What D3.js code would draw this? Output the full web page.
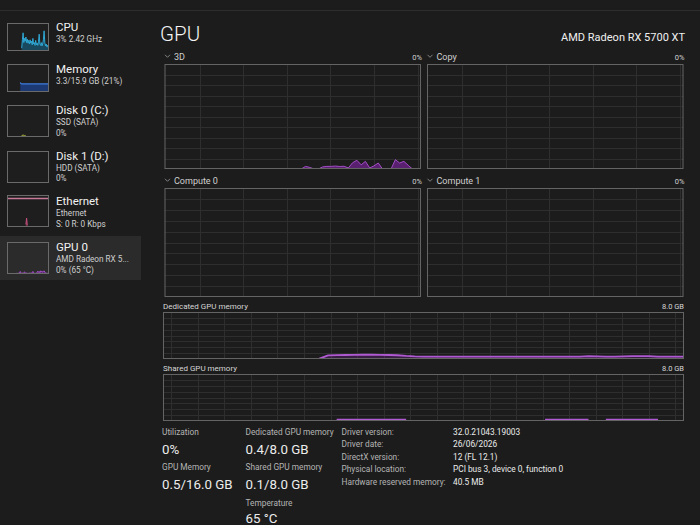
<!DOCTYPE html>
<html>
<head>
<meta charset="utf-8">
<script src="https://cdn.jsdelivr.net/npm/d3@7"></script>
<style>
  html, body { margin: 0; padding: 0; background: #1c1c1c; }
  svg { display: block; }
  text { font-family: "Segoe UI", Roboto, "Noto Sans", sans-serif; }
</style>
</head>
<body>
<svg id="tm" width="700" height="525"></svg>
<script>
'use strict';

// one sample per second, 60 s of history
var seconds = d3.range(0, 61);

// 3D engine utilisation (%)
var util3d = [
  0, 0, 0, 0, 0, 0, 0, 0, 0, 0,
  0, 0, 0, 0, 0, 0, 0, 0, 0, 0,
  0, 0, 0, 0, 0, 0, 0, 0, 0, 0,
  0, 0, 0, 2.5, 1.5, 0, 0, 2, 2.5, 2.5,
  2.8, 2.4, 2.6, 1, 6, 8.3, 4, 7.3, 1, 3,
  5.7, 0, 0, 0, 8.9, 5.7, 7.3, 3.5, 0, 0,
  0];

// GPU memory history (GB), null = no sample yet
var dedicatedGB = [
  null, null, null, null, null, null, null, null, null, null,
  null, null, null, null, null, null, null, null,
  0.05, 0.6, 0.66, 0.68, 0.7, 0.72, 0.72, 0.7, 0.68, 0.64,
  0.52, 0.44, 0.4, 0.4, 0.4, 0.4, 0.4, 0.4, 0.4, 0.4,
  0.4, 0.4, 0.4, 0.4, 0.4, 0.4, 0.4, 0.4, 0.4, 0.4,
  0.42, 0.48, 0.44, 0.4, 0.4, 0.45, 0.5, 0.5, 0.48, 0.42,
  0.4, 0.4, 0.4];
var sharedGB = [
  null, null, null, null, null, null, null, null, null, null,
  null, null, null, null, null, null, null, null, null,
  0, 0.25, 0.25, 0.25, 0.25, 0.25, 0.25, 0.25, 0.25, 0.25,
  0, 0, 0, 0, 0, 0, 0, 0, 0, 0,
  0, 0, 0, 0, 0, 0.25, 0.25, 0.25, 0.25, 0.25,
  0.25, 0, 0.25, 0.25, 0.25, 0.25, 0.25, 0.25, 0.25, 0,
  0, 0];

// sidebar thumbnails (% of thumbnail height)
var cpuThumb = [
  null, null, null, null, null, null, null, null, null, null,
  null, null, null, null, null, null, null, null, null, null,
  null, 10, 40, 65, 30, 45, 35, 50, 30, 42,
  28, 38, 25, 40, 28, 35, 22, 45, 25, 30,
  20, 38, 22, 28, 20, 35, 60, 25, 20, 30,
  18, 25, 40, 72, 30, 18, 25, 15, 20, 12,
  15];
var memThumb = [
  null, null, null, null, null, null, null, null, null, null,
  null, null, null, null, null, null, null, null, null,
  34, 30, 29, 29, 29, 29, 29, 29, 29, 29,
  29, 29, 29, 29, 29, 29, 29, 29, 29, 29,
  29, 29, 29, 29, 29, 29, 29, 29, 29, 29,
  29, 29, 29, 29, 29, 29, 29, 29, 29, 29,
  29, 29];
var disk0Thumb = [
  null, null, null, null, null, null, null, null, null, null,
  null, null, null, null, null, null, null, null, null, null,
  0, 3, 6, 5, 6, 4, 5, 2, 0, 0,
  0, 0, 0, 0, 0, 0, 0, 0, 0, 0,
  0, 0, 0, 0, 0, 4, 0, 0, 0, 0,
  0, 0, 0, 0, 0, 0, 0, 0, 0, 0,
  0];
var ethThumb = [
  null, null, null, null, null, null, null, null, null, null,
  null, null, null, null, null, null, null, null, null, null,
  0, 0, 0, 0, 0, 0, 0, 8, 28, 5,
  0, 0, 0, 0, 0, 0, 0, 0, 0, 0,
  0, 0, 0, 0, 0, 0, 0, 0, 0, 0,
  0, 0, 0, 0, 0, 0, 0, 0, 0, 0,
  0];
var ethScaleLine = [89, 89];
var gpuThumb = [
  null, null, null, null, null, null, null, null, null, null,
  null, null, null, 0, 3, 2, 3, 2, 3, 8,
  3, 2, 3, 2, 3, 7, 3, 2, 3, 2,
  3, 2, 3, 2, 3, 3, 4, 8, 3, 2,
  3, 2, 3, 4, 9, 5, 8, 4, 10, 6,
  9, 5, 8, 10, 6, 3, 2, 3, 2, 3,
  2];

var sideNames = ['CPU', 'Memory', 'Disk 0 (C:)', 'Disk 1 (D:)', 'Ethernet', 'GPU 0'];
var sideDetails = [
  ['3% 2.42 GHz'],
  ['3.3/15.9 GB (21%)'],
  ['SSD (SATA)', '0%'],
  ['HDD (SATA)', '0%'],
  ['Ethernet', 'S: 0 R: 0 Kbps'],
  ['AMD Radeon RX 5...', '0% (65 °C)']];

var engineNames = ['3D', 'Copy', 'Compute 0', 'Compute 1'];
var engineLoad = ['0%', '0%', '0%', '0%'];
var memoryNames = ['Dedicated GPU memory', 'Shared GPU memory'];
var memoryMax = ['8.0 GB', '8.0 GB'];

var statLabels = ['Utilization', 'GPU Memory', 'Dedicated GPU memory', 'Shared GPU memory', 'Temperature'];
var statValues = ['0%', '0.5/16.0 GB', '0.4/8.0 GB', '0.1/8.0 GB', '65 °C'];
var infoLabels = ['Driver version:', 'Driver date:', 'DirectX version:', 'Physical location:', 'Hardware reserved memory:'];
var infoValues = ['32.0.21043.19003', '26/06/2026', '12 (FL 12.1)', 'PCI bus 3, device 0, function 0', '40.5 MB'];

var svg = d3.select('#tm');

var GRID = '#2e2e2e', BORDER = '#646464';
var PURPLE = '#a24fc4', PURPLE_FILL = 'rgba(110,34,140,0.75)';

// top separator strip
svg.append('line')
  .attr('x1', 0).attr('x2', 700).attr('y1', 10.5).attr('y2', 10.5)
  .attr('stroke', '#2d2d2d')

// draws one history graph: box, grid, optional series
function drawGraph(box, o) {
  var g = svg.append('g');
  var x = d3.scaleLinear().domain([0, 60]).range([box.x0, box.x1]);
  var y = d3.scaleLinear().domain([0, o.max]).range([box.y1, box.y0]);
  var clipId = 'clip' + Math.round(box.x0) + '_' + Math.round(box.y0);

  g.append('clipPath').attr('id', clipId)
    .append('rect')
    .attr('x', box.x0).attr('y', box.y0)
    .attr('width', box.x1 - box.x0).attr('height', box.y1 - box.y0);

  g.append('rect')
    .attr('x', box.x0).attr('y', box.y0)
    .attr('width', box.x1 - box.x0).attr('height', box.y1 - box.y0)
    .attr('fill', o.bg || '#1c1c1c');

  if (o.rows) {
    var rowTicks = d3.range(1, o.rows).map(function(i) { return o.max * i / o.rows; });
    g.selectAll('line.h').data(rowTicks).enter().append('line')
      .attr('x1', box.x0).attr('x2', box.x1)
      .attr('y1', function(d) { return Math.round(y(d)) + 0.5; })
      .attr('y2', function(d) { return Math.round(y(d)) + 0.5; })
      .attr('stroke', GRID);
    var colTicks = d3.range(o.phase, 60, o.step);
    g.selectAll('line.v').data(colTicks).enter().append('line')
      .attr('y1', box.y0).attr('y2', box.y1)
      .attr('x1', function(d) { return Math.round(x(d)) + 0.5; })
      .attr('x2', function(d) { return Math.round(x(d)) + 0.5; })
      .attr('stroke', GRID);
  }

  (o.series || []).forEach(function(s) {
    var sx = s.t || seconds;
    var pts = s.values.map(function(v, i) { return [sx[i], v]; });
    var defined = function(d) { return d[1] != null && (!s.hideZero || d[1] > 0); };
    var sg = g.append('g').attr('clip-path', 'url(#' + clipId + ')');
    if (s.fill) {
      sg.append('path')
        .datum(pts)
        .attr('fill', s.fill)
        .attr('d', d3.area().defined(defined)
          .x(function(d) { return x(d[0]); })
          .y0(box.y1)
          .y1(function(d) { return y(d[1]); }));
    }
    sg.append('path')
      .datum(pts)
      .attr('fill', 'none')
      .attr('stroke', s.stroke)
      .attr('stroke-width', s.width || 1)
      .attr('d', d3.line().defined(defined)
        .x(function(d) { return x(d[0]); })
        .y(function(d) { return y(d[1]); }));
  });

  g.append('rect')
    .attr('x', box.x0 + 0.5).attr('y', box.y0 + 0.5)
    .attr('width', box.x1 - box.x0 - 1).attr('height', box.y1 - box.y0 - 1)
    .attr('fill', 'none')
    .attr('stroke', o.border || BORDER);
  return g;
}

function chevron(cx, cy) {
  svg.append('path')
    .attr('d', 'M' + (cx - 2.5) + ',' + (cy - 1.2) + 'L' + cx + ',' + (cy + 1.3) + 'L' + (cx + 2.5) + ',' + (cy - 1.2))
    .attr('fill', 'none').attr('stroke', '#9a9a9a').attr('stroke-width', 0.8);
}

// ---- sidebar ----
svg.append('rect')
  .attr('x', 0).attr('y', 236).attr('width', 141).attr('height', 44)
  .attr('fill', '#2b2b2b');

var thumbBoxes = [
  {x0: 7, x1: 49, y0: 23, y1: 51},
  {x0: 7, x1: 49, y0: 64, y1: 92},
  {x0: 7, x1: 49, y0: 105, y1: 137},
  {x0: 7, x1: 49, y0: 151, y1: 183},
  {x0: 7, x1: 49, y0: 195, y1: 227},
  {x0: 7, x1: 49, y0: 242, y1: 274}];
var thumbSeries = [
  [{values: cpuThumb, stroke: '#2fa7d4', fill: 'rgba(20,110,150,0.55)'}],
  [{values: memThumb, stroke: '#3f7ee0', fill: 'rgba(28,62,130,0.85)', width: 1.2}],
  [{values: disk0Thumb, stroke: '#a9b23a', fill: 'rgba(120,130,40,0.6)', hideZero: true}],
  [],
  [{values: ethScaleLine, t: [0, 60], stroke: '#c77a98', width: 1.3},
   {values: ethThumb, stroke: '#c6507e', fill: 'rgba(170,60,100,0.6)', hideZero: true}],
  [{values: gpuThumb, stroke: '#a24fc4', fill: 'rgba(110,34,140,0.6)'}]];
var nameBase = [31, 73, 114, 159.5, 205, 251];

thumbBoxes.forEach(function(b, i) {
  drawGraph(b, {max: 100, series: thumbSeries[i], bg: i === 5 ? '#2b2b2b' : '#1e1e1e', border: '#6a6a6a'});
  svg.append('text')
    .attr('x', 56).attr('y', nameBase[i])
    .attr('fill', '#f2f2f2').attr('font-size', 11.5)
    .text(sideNames[i]);
  sideDetails[i].forEach(function(t, j) {
    svg.append('text')
      .attr('x', 56).attr('y', nameBase[i] + 11 + j * 10.8)
      .attr('fill', '#cfcfcf').attr('font-size', 8.2)
      .text(t);
  });
});

// ---- header ----
svg.append('text')
  .attr('x', 160).attr('y', 40.5)
  .attr('fill', '#f4f4f4').attr('font-size', 20.5).attr('font-weight', 300)
  .text('GPU');
svg.append('text')
  .attr('x', 685).attr('y', 41).attr('text-anchor', 'end')
  .attr('fill', '#f0f0f0').attr('font-size', 11)
  .text('AMD Radeon RX 5700 XT');

// ---- engine graphs ----
var engineBoxes = [
  {x0: 164.5, x1: 421, y0: 64, y1: 169},
  {x0: 427, x1: 683.5, y0: 64, y1: 169},
  {x0: 164.5, x1: 421, y0: 188, y1: 297},
  {x0: 427, x1: 683.5, y0: 188, y1: 297}];
var engineSeries = [
  [{values: util3d, stroke: PURPLE, fill: PURPLE_FILL}], [], [], []];

engineBoxes.forEach(function(b, i) {
  drawGraph(b, {max: 100, rows: 10, phase: 8.2, step: 10.2, series: engineSeries[i]});
  var ly = b.y0 - 4.5;
  chevron(b.x0 + 3, ly - 3.5);
  svg.append('text')
    .attr('x', b.x0 + 9.5).attr('y', ly)
    .attr('fill', '#d0d0d0').attr('font-size', 9)
    .text(engineNames[i]);
  svg.append('text')
    .attr('x', b.x1 + 1).attr('y', ly).attr('text-anchor', 'end')
    .attr('fill', '#d0d0d0').attr('font-size', 7.5)
    .text(engineLoad[i]);
});

// ---- memory graphs ----
var memoryBoxes = [
  {x0: 163, x1: 684, y0: 312, y1: 359},
  {x0: 163, x1: 684, y0: 374, y1: 421}];
var memorySeries = [
  [{values: dedicatedGB, stroke: '#b05ad2', fill: 'rgba(110,34,140,0.35)', width: 1.8}],
  [{values: sharedGB, stroke: '#b05ad2', width: 1.8, hideZero: true}]];

memoryBoxes.forEach(function(b, i) {
  drawGraph(b, {max: 8, rows: 8, phase: 0.96, step: 3.055, series: memorySeries[i]});
  svg.append('text')
    .attr('x', b.x0).attr('y', b.y0 - 3.5)
    .attr('fill', '#d6d6d6').attr('font-size', 8)
    .text(memoryNames[i]);
  svg.append('text')
    .attr('x', b.x1).attr('y', b.y0 - 3.5).attr('text-anchor', 'end')
    .attr('fill', '#d6d6d6').attr('font-size', 7.5)
    .text(memoryMax[i]);
});

// ---- statistics ----
var statPos = [[162, 0], [162, 1], [245.5, 0], [245.5, 1], [245.5, 2]];
var labelBase = [434.5, 469.5, 505.5];
var valueBase = [453.5, 488.5, 522.5];
statLabels.forEach(function(t, i) {
  var p = statPos[i];
  svg.append('text')
    .attr('x', p[0]).attr('y', labelBase[p[1]])
    .attr('fill', '#b4b4b4').attr('font-size', 8.3)
    .text(t);
  svg.append('text')
    .attr('x', p[0]).attr('y', valueBase[p[1]])
    .attr('fill', '#ececec').attr('font-size', 13.3)
    .text(statValues[i]);
});
infoLabels.forEach(function(t, i) {
  svg.append('text')
    .attr('x', 341.5).attr('y', 434.5 + i * 12.5)
    .attr('fill', '#b4b4b4').attr('font-size', 8.3)
    .text(t);
  svg.append('text')
    .attr('x', 453).attr('y', 434.5 + i * 12.5)
    .attr('fill', '#ececec').attr('font-size', 8.3)
    .text(infoValues[i]);
});
</script>
</body>
</html>
